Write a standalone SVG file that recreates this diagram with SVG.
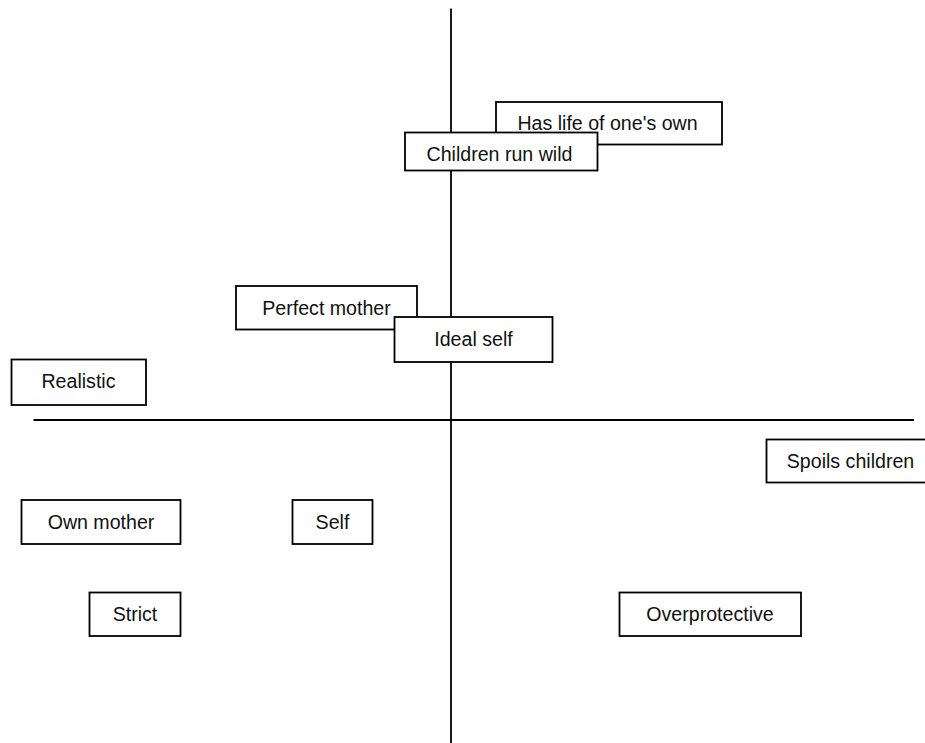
<svg xmlns="http://www.w3.org/2000/svg" width="925" height="743" viewBox="0 0 925 743">
<style>
.box{fill:#fff;stroke:#000;stroke-width:1.8}
.axis{stroke:#000;stroke-width:1.8;fill:none}
text{font-family:"Liberation Sans",Arial,Helvetica,sans-serif;font-size:19.6px;fill:#111;text-anchor:middle}
</style>
<rect width="925" height="743" fill="#fff"/>
<g id="connectors">
<line class="axis" x1="451" y1="8.5" x2="451" y2="743"/>
<line class="axis" x1="33.5" y1="420" x2="914" y2="420"/>
</g>
<g id="has-life"><rect class="box" x="496" y="102" width="226" height="42.5"/><text x="607.5" y="130">Has life of one's own</text></g>
<g id="children-run-wild"><rect class="box" x="405" y="132.5" width="192.5" height="38"/><text x="499.5" y="161">Children run wild</text></g>
<g id="perfect-mother"><rect class="box" x="236" y="286" width="181" height="43.5"/><text x="326.5" y="315">Perfect mother</text></g>
<g id="ideal-self"><rect class="box" x="394.5" y="317" width="158" height="45"/><text x="473.5" y="345.5">Ideal self</text></g>
<g id="realistic"><rect class="box" x="11.5" y="359.5" width="134.5" height="45.5"/><text x="78.5" y="387.5">Realistic</text></g>
<g id="spoils-children"><rect class="box" x="766.5" y="439.5" width="175" height="43"/><text x="850.5" y="468">Spoils children</text></g>
<g id="own-mother"><rect class="box" x="21.5" y="500" width="159" height="44"/><text x="101" y="529">Own mother</text></g>
<g id="self"><rect class="box" x="292.5" y="500" width="80" height="44"/><text x="332.5" y="529">Self</text></g>
<g id="strict"><rect class="box" x="89.5" y="592.5" width="91" height="43.5"/><text x="135" y="621">Strict</text></g>
<g id="overprotective"><rect class="box" x="619.5" y="592.5" width="181.5" height="43.5"/><text x="710" y="621">Overprotective</text></g>
</svg>
